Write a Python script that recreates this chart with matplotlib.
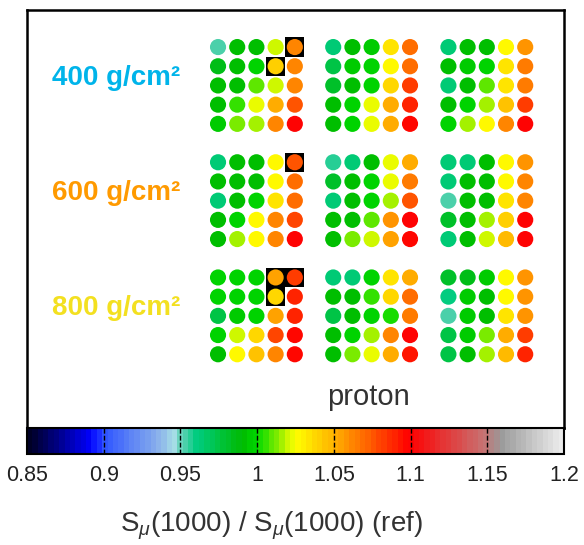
import numpy as np
import matplotlib
matplotlib.use("Agg")
import matplotlib.pyplot as plt
from matplotlib.colors import LinearSegmentedColormap, ListedColormap, Normalize
from matplotlib.patches import Circle, Rectangle
import matplotlib.colorbar as mcolorbar

# ---------------- data ----------------
depth_labels = ["400 g/cm\u00b2", "600 g/cm\u00b2", "800 g/cm\u00b2"]
depth_colors = ["#00b4ea", "#ff9a00", "#f3e020"]
primary_label = "proton"

ratio_400 = [
    [[0.952, 0.990, 0.992, 1.021, 1.062],
     [0.985, 0.990, 1.000, 1.040, 1.063],
     [0.990, 0.990, 1.010, 1.021, 1.062],
     [0.993, 1.006, 1.025, 1.050, 1.075],
     [0.995, 1.012, 1.017, 1.063, 1.100]],
    [[0.965, 0.990, 0.995, 1.035, 1.070],
     [0.975, 0.995, 0.997, 1.028, 1.070],
     [0.980, 0.990, 0.997, 1.038, 1.082],
     [0.990, 1.000, 1.022, 1.050, 1.090],
     [0.990, 1.000, 1.022, 1.050, 1.097]],
    [[0.965, 0.990, 0.990, 1.027, 1.057],
     [0.990, 0.995, 0.997, 1.035, 1.066],
     [0.965, 0.990, 1.010, 1.035, 1.066],
     [0.990, 1.000, 1.017, 1.045, 1.082],
     [1.000, 1.015, 1.026, 1.060, 1.100]],
]
ratio_600 = [
    [[0.965, 0.990, 0.990, 1.026, 1.075],
     [0.990, 0.990, 0.990, 1.027, 1.070],
     [0.963, 0.990, 1.000, 1.035, 1.070],
     [0.990, 1.000, 1.026, 1.062, 1.080],
     [0.990, 1.016, 1.026, 1.060, 1.100]],
    [[0.958, 0.962, 0.990, 1.024, 1.050],
     [0.980, 0.990, 1.000, 1.022, 1.064],
     [0.963, 0.990, 0.997, 1.017, 1.074],
     [0.990, 0.990, 1.011, 1.058, 1.100],
     [0.990, 1.013, 1.021, 1.055, 1.097]],
    [[0.965, 0.965, 0.990, 1.028, 1.059],
     [0.965, 0.990, 0.990, 1.026, 1.063],
     [0.953, 0.990, 0.990, 1.034, 1.063],
     [0.980, 0.990, 1.017, 1.040, 1.100],
     [0.965, 0.990, 1.020, 1.047, 1.100]],
]
ratio_800 = [
    [[1.000, 1.000, 1.000, 1.055, 1.082],
     [1.000, 1.000, 1.000, 1.038, 1.090],
     [0.975, 0.995, 1.000, 1.055, 1.090],
     [1.000, 1.020, 1.036, 1.078, 1.097],
     [0.990, 1.026, 1.045, 1.062, 1.097]],
    [[0.963, 0.965, 1.000, 1.032, 1.050],
     [0.990, 0.990, 1.005, 1.038, 1.068],
     [0.975, 0.990, 0.997, 1.003, 1.066],
     [0.990, 1.000, 1.015, 1.061, 1.100],
     [0.990, 1.014, 1.022, 1.050, 1.093]],
    [[0.980, 0.985, 0.995, 1.027, 1.057],
     [0.960, 0.995, 0.990, 1.026, 1.058],
     [0.952, 0.995, 0.990, 1.034, 1.057],
     [0.975, 0.995, 1.014, 1.050, 1.082],
     [0.975, 0.990, 1.015, 1.047, 1.088]],
]
all_ratios = [ratio_400, ratio_600, ratio_800]

# highlighted cells: (depth index, block index, row, col)
highlight_cells = [(0, 0, 0, 4), (0, 0, 1, 3), (1, 0, 0, 4),
                   (2, 0, 0, 3), (2, 0, 0, 4), (2, 0, 1, 3)]

cbar_ticks = [0.85, 0.9, 0.95, 1.0, 1.05, 1.1, 1.15, 1.2]
cbar_ticklabels = ["0.85", "0.9", "0.95", "1", "1.05", "1.1", "1.15", "1.2"]
vmin, vmax = 0.85, 1.2
cbar_label = "S$_{\\mu}$(1000) / S$_{\\mu}$(1000) (ref)"

# ---------------- colormap ----------------
anchors = [
    (0.85, (0.00, 0.00, 0.15)),
    (0.89, (0.00, 0.00, 1.00)),
    (0.90, (0.20, 0.35, 1.00)),
    (0.935, (0.55, 0.70, 0.92)),
    (0.945, (0.65, 0.87, 0.90)),
    (0.95, (0.35, 0.82, 0.70)),
    (0.96, (0.00, 0.80, 0.50)),
    (0.99, (0.00, 0.73, 0.00)),
    (1.00, (0.00, 0.85, 0.00)),
    (1.025, (1.00, 1.00, 0.00)),
    (1.05, (1.00, 0.70, 0.00)),
    (1.10, (1.00, 0.00, 0.00)),
    (1.15, (0.78, 0.45, 0.45)),
    (1.16, (0.60, 0.60, 0.60)),
    (1.20, (0.92, 0.92, 0.92)),
]
smooth = LinearSegmentedColormap.from_list(
    "rootlike", [((v - vmin) / (vmax - vmin), c) for v, c in anchors])
cmap = ListedColormap(smooth(np.linspace(0, 1, 100)))
norm = Normalize(vmin, vmax)

# ---------------- figure ----------------
plt.rcParams['font.family'] = ['Liberation Sans', 'DejaVu Sans']
plt.rcParams['mathtext.fontset'] = 'custom'
plt.rcParams['mathtext.rm'] = 'Liberation Sans'
plt.rcParams['mathtext.it'] = 'Liberation Sans:italic'
W, H = 584, 545
fig = plt.figure(figsize=(W / 100, H / 100), dpi=100)

ax = fig.add_axes([27 / W, (H - 428) / H, 537 / W, 418 / H])
ax.set_xlim(-9.95, 18.02)
ax.set_ylim(19.84, -1.93)
ax.set_xticks([])
ax.set_yticks([])
for s in ax.spines.values():
    s.set_linewidth(1.8)
    s.set_color("black")

block_step = 6
radius = 0.42
for di, blocks in enumerate(all_ratios):
    for bi, grid in enumerate(blocks):
        for r, row in enumerate(grid):
            for c, v in enumerate(row):
                x = bi * block_step + c
                y = di * block_step + r
                if (di, bi, r, c) in highlight_cells:
                    ax.add_patch(Rectangle((x - 0.5, y - 0.5), 1.0, 1.0,
                                           facecolor="black", edgecolor="none", zorder=1))
                ax.add_patch(Circle((x, y), radius, facecolor=cmap(norm(v)),
                                    edgecolor="none", zorder=2))

for di, (lab, col) in enumerate(zip(depth_labels, depth_colors)):
    ax.text(-5.3, di * block_step + 1.6, lab, color=col, fontsize=20,
            fontweight="bold", ha="center", va="center")

ax.text(5.7, 18.25, primary_label, color="#333333", fontsize=21,
        ha="left", va="center")

# ---------------- colorbar ----------------
cax = fig.add_axes([27 / W, (H - 454) / H, 537 / W, 26 / H])
cb = mcolorbar.ColorbarBase(cax, cmap=cmap, norm=norm, orientation="horizontal")
cb.outline.set_linewidth(1.5)
cb.set_ticks(cbar_ticks)
cb.set_ticklabels(cbar_ticklabels)
cax.tick_params(axis="x", length=0, pad=8, labelsize=15.5, labelcolor="#222222")
for t in cbar_ticks[1:-1]:
    cax.vlines(t, 0, 1, colors="black", linewidth=1.0, linestyles=(0, (3.5, 1.5)),
               transform=cax.get_xaxis_transform())
cb.set_label(cbar_label, fontsize=20, color="#333333", labelpad=16)
cax.xaxis.set_label_coords((271 - 27) / 537, -2.15)

fig.savefig("out.png", dpi=100)
